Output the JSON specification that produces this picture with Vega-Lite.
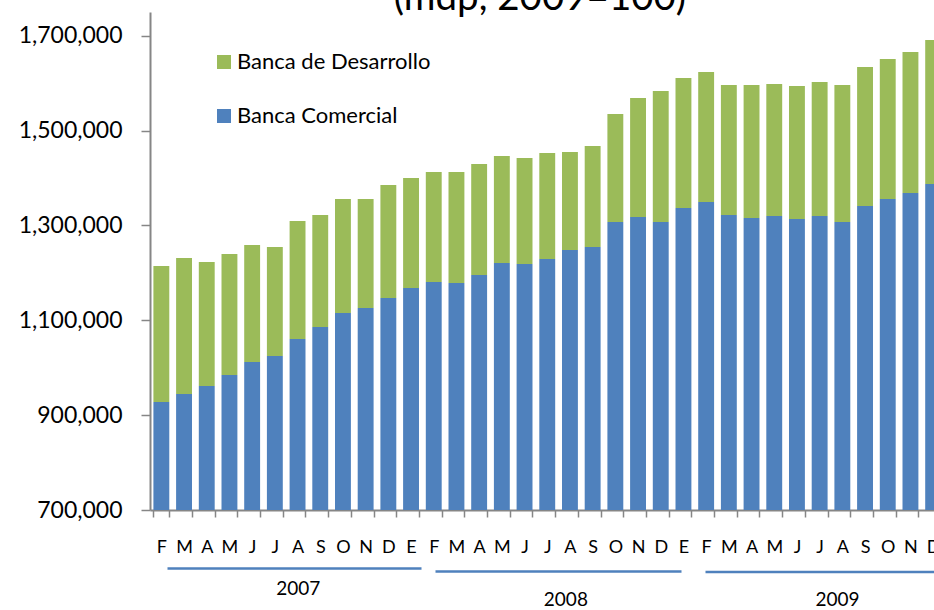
{
  "$schema": "https://vega.github.io/schema/vega-lite/v6.json",
  "autosize": "none",
  "width": 784,
  "height": 498,
  "padding": {"left": 150, "top": 12, "right": 0, "bottom": 100},
  "background": "white",
  "title": {"text": "(mdp, 2009=100)", "font": "Lato", "fontSize": 38.5, "fontWeight": "normal", "color": "black", "anchor": "middle", "frame": "group", "baseline": "alphabetic", "offset": -36, "dx": -2},
  "config": {"view": {"stroke": null}},
  "datasets": {
    "bancos": [
      {"periodo": "2007-02", "serie": "Banca Comercial", "valor": 927700}, {"periodo": "2007-02", "serie": "Banca de Desarrollo", "valor": 286800},
      {"periodo": "2007-03", "serie": "Banca Comercial", "valor": 944600}, {"periodo": "2007-03", "serie": "Banca de Desarrollo", "valor": 286700},
      {"periodo": "2007-04", "serie": "Banca Comercial", "valor": 961400}, {"periodo": "2007-04", "serie": "Banca de Desarrollo", "valor": 261500},
      {"periodo": "2007-05", "serie": "Banca Comercial", "valor": 984600}, {"periodo": "2007-05", "serie": "Banca de Desarrollo", "valor": 255200},
      {"periodo": "2007-06", "serie": "Banca Comercial", "valor": 1012000}, {"periodo": "2007-06", "serie": "Banca de Desarrollo", "valor": 246700},
      {"periodo": "2007-07", "serie": "Banca Comercial", "valor": 1024700}, {"periodo": "2007-07", "serie": "Banca de Desarrollo", "valor": 229800},
      {"periodo": "2007-08", "serie": "Banca Comercial", "valor": 1060500}, {"periodo": "2007-08", "serie": "Banca de Desarrollo", "valor": 248800},
      {"periodo": "2007-09", "serie": "Banca Comercial", "valor": 1085800}, {"periodo": "2007-09", "serie": "Banca de Desarrollo", "valor": 236200},
      {"periodo": "2007-10", "serie": "Banca Comercial", "valor": 1115400}, {"periodo": "2007-10", "serie": "Banca de Desarrollo", "valor": 240300},
      {"periodo": "2007-11", "serie": "Banca Comercial", "valor": 1125900}, {"periodo": "2007-11", "serie": "Banca de Desarrollo", "valor": 229800},
      {"periodo": "2007-12", "serie": "Banca Comercial", "valor": 1147000}, {"periodo": "2007-12", "serie": "Banca de Desarrollo", "valor": 238200},
      {"periodo": "2008-01", "serie": "Banca Comercial", "valor": 1168100}, {"periodo": "2008-01", "serie": "Banca de Desarrollo", "valor": 231900},
      {"periodo": "2008-02", "serie": "Banca Comercial", "valor": 1180700}, {"periodo": "2008-02", "serie": "Banca de Desarrollo", "valor": 231900},
      {"periodo": "2008-03", "serie": "Banca Comercial", "valor": 1178600}, {"periodo": "2008-03", "serie": "Banca de Desarrollo", "valor": 234000},
      {"periodo": "2008-04", "serie": "Banca Comercial", "valor": 1195500}, {"periodo": "2008-04", "serie": "Banca de Desarrollo", "valor": 234000},
      {"periodo": "2008-05", "serie": "Banca Comercial", "valor": 1220800}, {"periodo": "2008-05", "serie": "Banca de Desarrollo", "valor": 225600},
      {"periodo": "2008-06", "serie": "Banca Comercial", "valor": 1218700}, {"periodo": "2008-06", "serie": "Banca de Desarrollo", "valor": 223500},
      {"periodo": "2008-07", "serie": "Banca Comercial", "valor": 1229200}, {"periodo": "2008-07", "serie": "Banca de Desarrollo", "valor": 223500},
      {"periodo": "2008-08", "serie": "Banca Comercial", "valor": 1248200}, {"periodo": "2008-08", "serie": "Banca de Desarrollo", "valor": 206600},
      {"periodo": "2008-09", "serie": "Banca Comercial", "valor": 1254500}, {"periodo": "2008-09", "serie": "Banca de Desarrollo", "valor": 213000},
      {"periodo": "2008-10", "serie": "Banca Comercial", "valor": 1307200}, {"periodo": "2008-10", "serie": "Banca de Desarrollo", "valor": 227700},
      {"periodo": "2008-11", "serie": "Banca Comercial", "valor": 1317800}, {"periodo": "2008-11", "serie": "Banca de Desarrollo", "valor": 250900},
      {"periodo": "2008-12", "serie": "Banca Comercial", "valor": 1307200}, {"periodo": "2008-12", "serie": "Banca de Desarrollo", "valor": 276200},
      {"periodo": "2009-01", "serie": "Banca Comercial", "valor": 1336700}, {"periodo": "2009-01", "serie": "Banca de Desarrollo", "valor": 274100},
      {"periodo": "2009-02", "serie": "Banca Comercial", "valor": 1349400}, {"periodo": "2009-02", "serie": "Banca de Desarrollo", "valor": 274100},
      {"periodo": "2009-03", "serie": "Banca Comercial", "valor": 1322000}, {"periodo": "2009-03", "serie": "Banca de Desarrollo", "valor": 274100},
      {"periodo": "2009-04", "serie": "Banca Comercial", "valor": 1315700}, {"periodo": "2009-04", "serie": "Banca de Desarrollo", "valor": 280400},
      {"periodo": "2009-05", "serie": "Banca Comercial", "valor": 1319900}, {"periodo": "2009-05", "serie": "Banca de Desarrollo", "valor": 278300},
      {"periodo": "2009-06", "serie": "Banca Comercial", "valor": 1313500}, {"periodo": "2009-06", "serie": "Banca de Desarrollo", "valor": 280500},
      {"periodo": "2009-07", "serie": "Banca Comercial", "valor": 1319900}, {"periodo": "2009-07", "serie": "Banca de Desarrollo", "valor": 282500},
      {"periodo": "2009-08", "serie": "Banca Comercial", "valor": 1307200}, {"periodo": "2009-08", "serie": "Banca de Desarrollo", "valor": 288900},
      {"periodo": "2009-09", "serie": "Banca Comercial", "valor": 1341000}, {"periodo": "2009-09", "serie": "Banca de Desarrollo", "valor": 293000},
      {"periodo": "2009-10", "serie": "Banca Comercial", "valor": 1355700}, {"periodo": "2009-10", "serie": "Banca de Desarrollo", "valor": 295200},
      {"periodo": "2009-11", "serie": "Banca Comercial", "valor": 1368400}, {"periodo": "2009-11", "serie": "Banca de Desarrollo", "valor": 297200},
      {"periodo": "2009-12", "serie": "Banca Comercial", "valor": 1387300}, {"periodo": "2009-12", "serie": "Banca de Desarrollo", "valor": 303600}
    ],
    "a2007": [{"anio": "2007"}],
    "a2008": [{"anio": "2008"}],
    "a2009": [{"anio": "2009"}]
  },
  "layer": [
    {
      "data": {"name": "bancos"},
      "mark": {"type": "bar", "clip": true},
      "encoding": {
        "x": {
          "field": "periodo", "type": "ordinal", "sort": "ascending",
          "scale": {"range": [0, 794.5], "paddingInner": 0.3, "paddingOuter": 0.15},
          "axis": {
            "title": null, "labelAngle": 0, "labelExpr": "['E','F','M','A','M','J','J','A','S','O','N','D'][toNumber(slice(datum.label,5,7))-1]",
            "labelFont": "Lato", "labelFontSize": 18, "labelColor": "black", "labelPadding": 21,
            "labelOverlap": false, "labelBound": false, "labelFlush": false,
            "tickBand": "extent", "tickSize": 7, "tickColor": "#868686", "tickWidth": 1.5,
            "domainColor": "#868686", "domainWidth": 2, "grid": false
          }
        },
        "y": {
          "field": "valor", "type": "quantitative", "stack": "zero",
          "scale": {"domain": [700000, 1750000], "nice": false, "zero": false},
          "axis": {
            "title": null, "values": [700000, 900000, 1100000, 1300000, 1500000, 1700000], "format": ",.0f",
            "labelFont": "Lato", "labelFontSize": 23, "labelColor": "black", "labelPadding": 19,
            "tickSize": 9, "tickColor": "#868686", "tickWidth": 1.5,
            "domainColor": "#868686", "domainWidth": 2, "grid": false
          }
        },
        "order": {"field": "serie", "sort": "ascending"},
        "color": {
          "field": "serie", "type": "nominal",
          "scale": {"domain": ["Banca de Desarrollo", "Banca Comercial"], "range": ["#9BBB59", "#4F81BD"]},
          "legend": {
            "title": null, "orient": "none", "legendX": 63, "legendY": 39, "padding": 0,
            "symbolType": "square", "symbolSize": 196, "symbolStrokeWidth": 0,
            "labelFont": "Lato", "labelFontSize": 22, "labelColor": "black", "labelOffset": 2, "labelLimit": 400, "rowPadding": 32
          }
        }
      }
    },
    {
      "data": {"name": "a2007"},
      "mark": {"type": "text", "text": ""},
      "encoding": {
        "x": {"field": "anio", "type": "nominal", "scale": {"range": [17, 271], "align": 0.515},
          "axis": {"title": null, "orient": "bottom", "offset": 58, "domainColor": "#4F81BD", "domainWidth": 2.5, "ticks": false, "tickSize": 0,
            "labelFont": "Lato", "labelFontSize": 19, "labelColor": "black", "labelPadding": 11, "labelAngle": 0, "grid": false}}
      }
    },
    {
      "data": {"name": "a2008"},
      "mark": {"type": "text", "text": ""},
      "encoding": {
        "x": {"field": "anio", "type": "nominal", "scale": {"range": [285, 531], "align": 0.53},
          "axis": {"title": null, "orient": "bottom", "offset": 61, "domainColor": "#4F81BD", "domainWidth": 2.5, "ticks": false, "tickSize": 0,
            "labelFont": "Lato", "labelFontSize": 19, "labelColor": "black", "labelPadding": 19, "labelAngle": 0, "grid": false}}
      }
    },
    {
      "data": {"name": "a2009"},
      "mark": {"type": "text", "text": ""},
      "encoding": {
        "x": {"field": "anio", "type": "nominal", "scale": {"range": [555, 830], "align": 0.48},
          "axis": {"title": null, "orient": "bottom", "offset": 61.5, "domainColor": "#4F81BD", "domainWidth": 2.5, "ticks": false, "tickSize": 0,
            "labelFont": "Lato", "labelFontSize": 19, "labelColor": "black", "labelPadding": 19, "labelAngle": 0, "grid": false}}
      }
    }
  ],
  "resolve": {"scale": {"x": "independent"}}
}
